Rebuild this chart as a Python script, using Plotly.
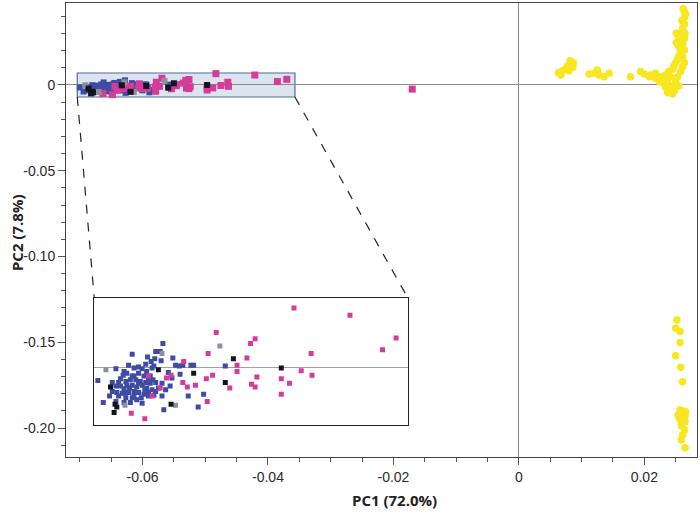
import plotly.graph_objects as go

# ---------------- data (PC1, PC2) ----------------
blue_pc1 = [-0.0628, -0.0636, -0.0631, -0.0662, -0.0637, -0.0641, -0.0617, -0.0647, -0.0655, -0.0660,
            -0.0666, -0.0680, -0.0671, -0.0651, -0.0646, -0.0668, -0.0672, -0.0662, -0.0655, -0.0649,
            -0.0638, -0.0642, -0.0639, -0.0700, -0.0684, -0.0677, -0.0669, -0.0664, -0.0658, -0.0653,
            -0.0647, -0.0642, -0.0636, -0.0629, -0.0618, -0.0609, -0.0614, -0.0610, -0.0606, -0.0597,
            -0.0594, -0.0680, -0.0675, -0.0671, -0.0668, -0.0662, -0.0657, -0.0651, -0.0646, -0.0640,
            -0.0633, -0.0625, -0.0684, -0.0679, -0.0673, -0.0666, -0.0660, -0.0655, -0.0649, -0.0644,
            -0.0638, -0.0629, -0.0677, -0.0669, -0.0662, -0.0657, -0.0651, -0.0644, -0.0694, -0.0680,
            -0.0671, -0.0664, -0.0600, -0.0589, -0.0627, -0.0660, -0.0559, -0.0583,
            -0.0665, -0.0655, -0.0648, -0.0660, -0.0644, -0.0636, -0.0670, -0.0652, -0.0675, -0.0640,
            -0.0622, -0.0630, -0.0645, -0.0687, -0.0620]
blue_pc2 = [0.0027, 0.0018, 0.0018, 0.0015, 0.0010, 0.0007, 0.0011, 0.0004, 0.0001, 0.0000,
            0.0003, -0.0001, -0.0004, -0.0001, -0.0004, -0.0006, -0.0008, -0.0009, -0.0006, -0.0009,
            0.0002, -0.0009, -0.0013, -0.0014, -0.0016, -0.0016, -0.0015, -0.0013, -0.0013, -0.0015,
            -0.0016, -0.0017, -0.0016, -0.0017, -0.0011, -0.0007, 0.0003, 0.0002, 0.0003, 0.0003,
            0.0003, -0.0020, -0.0020, -0.0023, -0.0019, -0.0019, -0.0021, -0.0019, -0.0022, -0.0024,
            -0.0022, -0.0024, -0.0026, -0.0027, -0.0028, -0.0027, -0.0026, -0.0027, -0.0029, -0.0031,
            -0.0030, -0.0031, -0.0031, -0.0033, -0.0033, -0.0035, -0.0039, -0.0027, -0.0038, -0.0037,
            -0.0038, -0.0038, -0.0031, -0.0043, -0.0046, -0.0031, 0.0002, -0.0029,
            -0.0022, -0.0017, -0.0024, -0.0009, -0.0013, -0.0026, -0.0028, -0.0033, -0.0012, 0.0000,
            -0.0005, 0.0008, 0.0012, -0.0031, -0.0020]

pink_pc1 = [-0.0605, -0.0619, -0.0624, -0.0606, -0.0601, -0.0592, -0.0644, -0.0631, -0.0640, -0.0663,
            -0.0648, -0.0483, -0.0569, -0.0526, -0.0531, -0.0578, -0.0535, -0.0546, -0.0546, -0.0573,
            -0.0580, -0.0524, -0.0497, -0.0488, -0.0554, -0.0530, -0.0526, -0.0497, -0.0579, -0.0475,
            -0.0421, -0.0370, -0.0385, -0.0464, -0.0463]
pink_pc2 = [0.0007, -0.0008, -0.0011, -0.0016, -0.0021, -0.0019, -0.0009, -0.0022, -0.0031, -0.0050,
            -0.0056, 0.0066, 0.0039, 0.0032, 0.0027, 0.0016, 0.0011, 0.0003, -0.0004, -0.0008,
            -0.0012, -0.0010, -0.0012, -0.0017, -0.0022, -0.0018, -0.0021, -0.0029, -0.0037, -0.0003,
            0.0058, 0.0033, 0.0020, 0.0016, -0.0008]

pink_out_pc1 = [-0.0170]
pink_out_pc2 = [-0.0024]

black_pc1 = [-0.0633, -0.0594, -0.0686, -0.0681, -0.0679, -0.0682, -0.0619, -0.0550, -0.0559, -0.0497]
black_pc2 = [-0.0002, -0.0006, -0.0021, -0.0040, -0.0043, -0.0049, -0.0040, 0.0010, -0.0016, 0.0000]

gray_pc1 = [-0.0691, -0.0629, -0.0670, -0.0614, -0.0565]
gray_pc2 = [-0.0002, 0.0016, -0.0041, -0.0041, 0.0024]

yellow_pc1 = [0.0063, 0.0068, 0.0073, 0.0078, 0.0082, 0.0087, 0.0080, 0.0086, 0.0067,
              0.0112, 0.0125, 0.0128, 0.0136, 0.0144, 0.0120,
              0.0178, 0.0194, 0.0200, 0.0210, 0.0218, 0.0226, 0.0234, 0.0239, 0.0245, 0.0247,
              0.0250, 0.0253, 0.0255, 0.0258, 0.0258, 0.0254, 0.0251, 0.0258, 0.0255, 0.0251,
              0.0259, 0.0265, 0.0261, 0.0264, 0.0260, 0.0264, 0.0266, 0.0264, 0.0262, 0.0242,
              0.0237, 0.0232, 0.0242, 0.0248, 0.0240, 0.0245, 0.0250, 0.0253, 0.0258, 0.0261,
              0.0264, 0.0261, 0.0264, 0.0261, 0.0264, 0.0229, 0.0224, 0.0234, 0.0237, 0.0218,
              0.0208, 0.0255, 0.0248,
              0.0252, 0.0250, 0.0257, 0.0257, 0.0250, 0.0258, 0.0261,
              0.0257, 0.0262, 0.0254, 0.0265, 0.0258, 0.0265, 0.0259, 0.0264, 0.0261, 0.0259,
              0.0265, 0.0256, 0.0266]
yellow_pc2 = [0.0072, 0.0078, 0.0091, 0.0111, 0.0142, 0.0130, 0.0083, 0.0103, 0.0058,
              0.0064, 0.0087, 0.0058, 0.0048, 0.0068, 0.0068,
              0.0048, 0.0078, 0.0064, 0.0058, 0.0068, 0.0048, 0.0058, 0.0078, 0.0091, 0.0111,
              0.0130, 0.0150, 0.0169, 0.0188, 0.0208, 0.0227, 0.0247, 0.0252, 0.0282, 0.0301,
              0.0301, 0.0301, 0.0331, 0.0356, 0.0375, 0.0395, 0.0414, 0.0428, 0.0445, 0.0048,
              0.0025, 0.0006, -0.0010, -0.0033, -0.0033, -0.0052, 0.0019, 0.0048, 0.0078, 0.0107,
              0.0130, 0.0165, 0.0204, 0.0243, 0.0272, 0.0029, 0.0019, -0.0014, -0.0045, 0.0039,
              0.0048, -0.0006, 0.0000,
              -0.1370, -0.1419, -0.1438, -0.1501, -0.1578, -0.1646, -0.1730,
              -0.1895, -0.1901, -0.1924, -0.1928, -0.1953, -0.1963, -0.1987, -0.2012, -0.2041, -0.2070,
              -0.2115, -0.1944, -0.1905]

x_tickvals = [-0.06, -0.04, -0.02, 0, 0.02]
x_ticktext = ["-0.06", "-0.04", "-0.02", "0", "0.02"]
y_tickvals = [0, -0.05, -0.10, -0.15, -0.20]
y_ticktext = ["0", "-0.05", "-0.10", "-0.15", "-0.20"]

x_title = "PC1 (72.0%)"
y_title = "PC2 (7.8%)"

# ---------------- layout geometry ----------------
x_range = [-0.0722, 0.0284]
y_range = [-0.2169, 0.0478]
zoom_box = dict(x0=-0.0704, x1=-0.0357, y0=-0.007, y1=0.007)        # highlighted region (main axes)
inset_box = dict(x0=-0.0677, x1=-0.0177, y0=-0.1983, y1=-0.1242)    # where inset sits (main axes)
inset_xrange = [-0.0704, -0.0357]
inset_yrange = [-0.0063, 0.0077]

BLUE = "#3E4CA6"
PINK = "#D33C98"
BLACK = "#14141C"
GRAY = "#8C9199"
YELLOW = "#F8E620"
BOXFILL = "#DCE4EF"

def dom(v0, v1, r):
    return [(v0 - r[0]) / (r[1] - r[0]), (v1 - r[0]) / (r[1] - r[0])]

fig = go.Figure()

def add_sq(x, y, color, size, xa="x", ya="y"):
    fig.add_trace(go.Scatter(x=x, y=y, mode="markers", xaxis=xa, yaxis=ya,
                             marker=dict(symbol="square", size=size, color=color, line=dict(width=0)),
                             hoverinfo="skip", showlegend=False))

# main plot points
add_sq(blue_pc1, blue_pc2, BLUE, 6)
add_sq(pink_pc1, pink_pc2, PINK, 7)
add_sq(pink_out_pc1, pink_out_pc2, PINK, 7)
add_sq(gray_pc1, gray_pc2, GRAY, 6)
add_sq(black_pc1, black_pc2, BLACK, 6)
fig.add_trace(go.Scatter(x=yellow_pc1, y=yellow_pc2, mode="markers",
                         marker=dict(symbol="circle", size=7.5, color=YELLOW, line=dict(width=0)),
                         hoverinfo="skip", showlegend=False))

# inset points
add_sq(blue_pc1, blue_pc2, BLUE, 5, "x2", "y2")
add_sq(pink_pc1, pink_pc2, PINK, 5, "x2", "y2")
add_sq(gray_pc1, gray_pc2, GRAY, 5, "x2", "y2")
add_sq(black_pc1, black_pc2, BLACK, 5, "x2", "y2")

shapes = [
    dict(type="rect", xref="x", yref="y", layer="below",
         x0=zoom_box["x0"], x1=zoom_box["x1"], y0=zoom_box["y0"], y1=zoom_box["y1"],
         fillcolor=BOXFILL, line=dict(color="#4F6C9C", width=1.2)),
    dict(type="rect", xref="x2 domain", yref="y2 domain", layer="below",
         x0=0, x1=1, y0=0, y1=1, fillcolor=BOXFILL, line=dict(width=0)),
    dict(type="line", xref="x", yref="y", x0=zoom_box["x0"], y0=zoom_box["y0"],
         x1=inset_box["x0"], y1=inset_box["y1"], line=dict(color="#222", width=1.2, dash="dash")),
    dict(type="line", xref="x", yref="y", x0=zoom_box["x1"], y0=zoom_box["y0"],
         x1=inset_box["x1"], y1=inset_box["y1"], line=dict(color="#222", width=1.2, dash="dash")),
]

tickfont = dict(family="Liberation Sans, Arial, sans-serif", size=14, color="#2a2a2a")
titlefont = dict(family="Open Sans, Liberation Sans, sans-serif", size=15, color="#222", weight="bold")

annotations = [
    dict(text=x_title, xref="paper", yref="paper", x=0.52, y=-0.095, xanchor="center", yanchor="middle",
         showarrow=False, font=titlefont),
    dict(text=y_title, xref="paper", yref="paper", x=-0.078, y=0.495, xanchor="center", yanchor="middle",
         textangle=-90, showarrow=False, font=titlefont),
]

fig.update_layout(
    width=700, height=513,
    margin=dict(l=66, r=3, t=3, b=56, autoexpand=False),
    paper_bgcolor="white", plot_bgcolor="white",
    showlegend=False,
    shapes=shapes,
    annotations=annotations,
    xaxis=dict(range=x_range, tickvals=x_tickvals, ticktext=x_ticktext, tickfont=tickfont,
               ticks="outside", ticklen=7, tickcolor="#555", showgrid=False, automargin=False,
               showline=True, linecolor="#444", linewidth=1, mirror=True,
               zeroline=True, zerolinecolor="#8a8a8a", zerolinewidth=1,
               minor=dict(dtick=0.005, tick0=0, ticks="outside", ticklen=4, tickcolor="#555", showgrid=False)),
    yaxis=dict(range=y_range, tickvals=y_tickvals, ticktext=y_ticktext, tickfont=tickfont,
               ticks="outside", ticklen=7, tickcolor="#555", showgrid=False, automargin=False,
               showline=True, linecolor="#444", linewidth=1, mirror=True,
               zeroline=True, zerolinecolor="#8a8a8a", zerolinewidth=1,
               minor=dict(dtick=0.01, tick0=0, ticks="outside", ticklen=4, tickcolor="#555", showgrid=False)),
    xaxis2=dict(domain=dom(inset_box["x0"], inset_box["x1"], x_range), range=inset_xrange,
                anchor="y2", showticklabels=False, ticks="", showgrid=False, zeroline=False, automargin=False,
                showline=True, linecolor="#222", linewidth=1.3, mirror=True),
    yaxis2=dict(domain=dom(inset_box["y0"], inset_box["y1"], y_range), range=inset_yrange,
                anchor="x2", showticklabels=False, ticks="", showgrid=False, automargin=False,
                zeroline=True, zerolinecolor="#9aa3ad", zerolinewidth=1.2,
                showline=True, linecolor="#222", linewidth=1.3, mirror=True),
)

fig.write_html("out.html", config={"displayModeBar": False},
               post_script="document.body.style.margin='0';document.body.style.overflow='hidden';")
